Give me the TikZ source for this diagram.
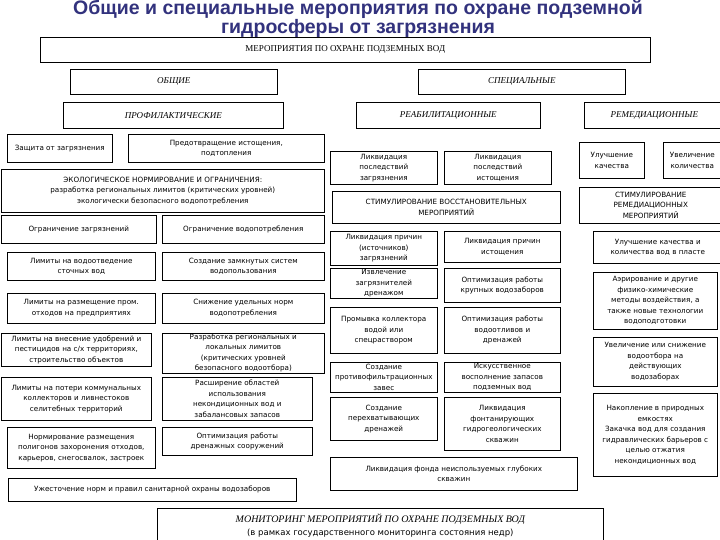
\documentclass[tikz,border=0pt]{standalone}
\usepackage{fontspec}
\setmainfont{DejaVu Sans}
\newfontfamily\headfont{Liberation Serif}
\newfontfamily\titlefont{Liberation Sans}
\definecolor{titleblue}{RGB}{50,50,125}
\begin{document}
\begin{tikzpicture}[x=1pt,y=-1pt,
  box/.style={draw,line width=0.6pt,anchor=north west,align=center,inner xsep=1pt,inner ysep=0.5pt,font=\fontsize{7.2}{10.5}\selectfont},
  head/.style={box,font=\headfont\itshape\fontsize{9}{11}\selectfont}]
\useasboundingbox (0,0) rectangle (720,540);
% title
\node[align=center,inner sep=0pt,text=titleblue,font=\titlefont\bfseries\fontsize{19.5}{17}\selectfont] (title) at (358,19) {Общие и специальные мероприятия по охране подземной\\гидросферы от загрязнения};
\node[box,font=\headfont\fontsize{9}{11}\selectfont,minimum width=610pt,minimum height=25pt] (root) at (40,37) {МЕРОПРИЯТИЯ ПО ОХРАНЕ ПОДЗЕМНЫХ ВОД};
\node[head,minimum width=207pt,minimum height=25pt] (general) at (70,69) {ОБЩИЕ};
\node[head,minimum width=207pt,minimum height=25pt] (special) at (418,69) {СПЕЦИАЛЬНЫЕ};
\node[head,minimum width=220pt,minimum height=26pt] (prophyl) at (63,102) {ПРОФИЛАКТИЧЕСКИЕ};
\node[head,minimum width=184pt,minimum height=26pt] (rehab) at (356,102) {РЕАБИЛИТАЦИОННЫЕ};
\node[head,minimum width=140pt,minimum height=26pt] (remed) at (584,102) {РЕМЕДИАЦИОННЫЕ};
% prophylactic measures
\node[box,minimum width=105pt,minimum height=28pt] (protect) at (7,134) {Защита от загрязнения};
\node[box,minimum width=196pt,minimum height=28pt] (prevent) at (128,134) {Предотвращение истощения,\\подтопления};
\node[box,minimum width=323pt,minimum height=43pt] (ecolim) at (1,169) {ЭКОЛОГИЧЕСКОЕ НОРМИРОВАНИЕ И ОГРАНИЧЕНИЯ:\\разработка региональных лимитов (критических уровней)\\экологически безопасного водопотребления};
\node[box,minimum width=155pt,minimum height=28pt] (limpoll) at (1,215) {Ограничение загрязнений};
\node[box,minimum width=162pt,minimum height=28pt] (limuse) at (162,215) {Ограничение водопотребления};
\node[box,minimum width=148pt,minimum height=28pt] (drainlim) at (7,252) {Лимиты на водоотведение\\сточных вод};
\node[box,minimum width=162pt,minimum height=28pt] (closed) at (162,252) {Создание замкнутых систем\\водопользования};
\node[box,minimum width=148pt,minimum height=30pt] (wastelim) at (7,293) {Лимиты на размещение пром.\\отходов на предприятиях};
\node[box,minimum width=162pt,minimum height=30pt] (norms) at (162,293) {Снижение удельных норм\\водопотребления};
\node[box,minimum width=150pt,minimum height=33pt] (fertlim) at (1,333) {Лимиты на внесение удобрений и\\пестицидов на с/х территориях,\\строительство объектов};
\node[box,minimum width=162pt,minimum height=39pt] (regional) at (162,333) {Разработка региональных и\\локальных лимитов\\(критических уровней\\безопасного водоотбора)};
\node[box,minimum width=150pt,minimum height=43pt] (losslim) at (1,377) {Лимиты на потери коммунальных\\коллекторов и ливнестоков\\селитебных территорий};
\node[box,minimum width=150pt,minimum height=43pt] (widen) at (162,377) {Расширение областей\\использования\\некондиционных вод и\\забалансовых запасов};
\node[box,minimum width=148pt,minimum height=41pt] (landfill) at (7,427) {Нормирование размещения\\полигонов захоронения отходов,\\карьеров, снегосвалок, застроек};
\node[box,minimum width=150pt,minimum height=28pt] (optdr) at (162,427) {Оптимизация работы\\дренажных сооружений};
\node[box,minimum width=288pt,minimum height=23pt] (sanit) at (8,478) {Ужесточение норм и правил санитарной охраны водозаборов};
% rehabilitation measures
\node[box,minimum width=107pt,minimum height=33pt] (conspoll) at (330,151) {Ликвидация\\последствий\\загрязнения};
\node[box,minimum width=107pt,minimum height=33pt] (consdepl) at (444,151) {Ликвидация\\последствий\\истощения};
\node[box,minimum width=228pt,minimum height=32pt] (stimrest) at (332,191) {СТИМУЛИРОВАНИЕ ВОССТАНОВИТЕЛЬНЫХ\\МЕРОПРИЯТИЙ};
\node[box,minimum width=107pt,minimum height=34pt] (causepoll) at (330,231) {Ликвидация причин\\(источников)\\загрязнений};
\node[box,minimum width=116pt,minimum height=31pt] (causedepl) at (444,231) {Ликвидация причин\\истощения};
\node[box,minimum width=107pt,minimum height=30pt] (extract) at (330,268) {Извлечение\\загрязнителей\\дренажом};
\node[box,minimum width=116pt,minimum height=34pt] (optlarge) at (444,268) {Оптимизация работы\\крупных водозаборов};
\node[box,minimum width=107pt,minimum height=46pt] (flush) at (330,307) {Промывка коллектора\\водой или\\спецраствором};
\node[box,minimum width=116pt,minimum height=46pt] (optpump) at (444,307) {Оптимизация работы\\водоотливов и\\дренажей};
\node[box,minimum width=107pt,minimum height=30pt] (curtain) at (330,362) {Создание\\противофильтрационных\\завес};
\node[box,minimum width=116pt,minimum height=30pt] (recharge) at (444,362) {Искусственное\\восполнение запасов\\подземных вод};
\node[box,minimum width=107pt,minimum height=43pt] (intercept) at (330,397) {Создание\\перехватывающих\\дренажей};
\node[box,minimum width=116pt,minimum height=53pt] (fountain) at (444,397) {Ликвидация\\фонтанирующих\\гидрогеологических\\скважин};
\node[box,minimum width=247pt,minimum height=33pt] (deepwells) at (330,457) {Ликвидация фонда неиспользуемых глубоких\\скважин};
% remediation measures
\node[box,minimum width=65pt,minimum height=36pt] (quality) at (579,142) {Улучшение\\качества};
\node[box,minimum width=58pt,minimum height=36pt] (quantity) at (663,142) {Увеличение\\количества};
\node[box,minimum width=143pt,minimum height=36pt] (stimrem) at (579,187) {СТИМУЛИРОВАНИЕ\\РЕМЕДИАЦИОННЫХ\\МЕРОПРИЯТИЙ};
\node[box,minimum width=129pt,minimum height=32pt] (inlayer) at (593,231) {Улучшение качества и\\количества вод в пласте};
\node[box,minimum width=124pt,minimum height=57pt] (aerate) at (593,272) {Аэрирование и другие\\физико-химические\\методы воздействия, а\\также новые технологии\\водоподготовки};
\node[box,minimum width=124pt,minimum height=49pt] (withdraw) at (593,337) {Увеличение или снижение\\водоотбора на\\действующих\\водозаборах};
\node[box,minimum width=124pt,minimum height=83pt] (storage) at (593,393) {Накопление в природных\\емкостях\\Закачка вод для создания\\гидравлических барьеров с\\целью отжатия\\некондиционных вод};
% monitoring
\node[box,font=\fontsize{8.5}{13}\selectfont,minimum width=446pt,minimum height=34pt] (monitor) at (157,508) {{\headfont\itshape\fontsize{10}{13}\selectfont МОНИТОРИНГ МЕРОПРИЯТИЙ ПО ОХРАНЕ ПОДЗЕМНЫХ ВОД}\\(в рамках государственного мониторинга состояния недр)};
\end{tikzpicture}
\end{document}
